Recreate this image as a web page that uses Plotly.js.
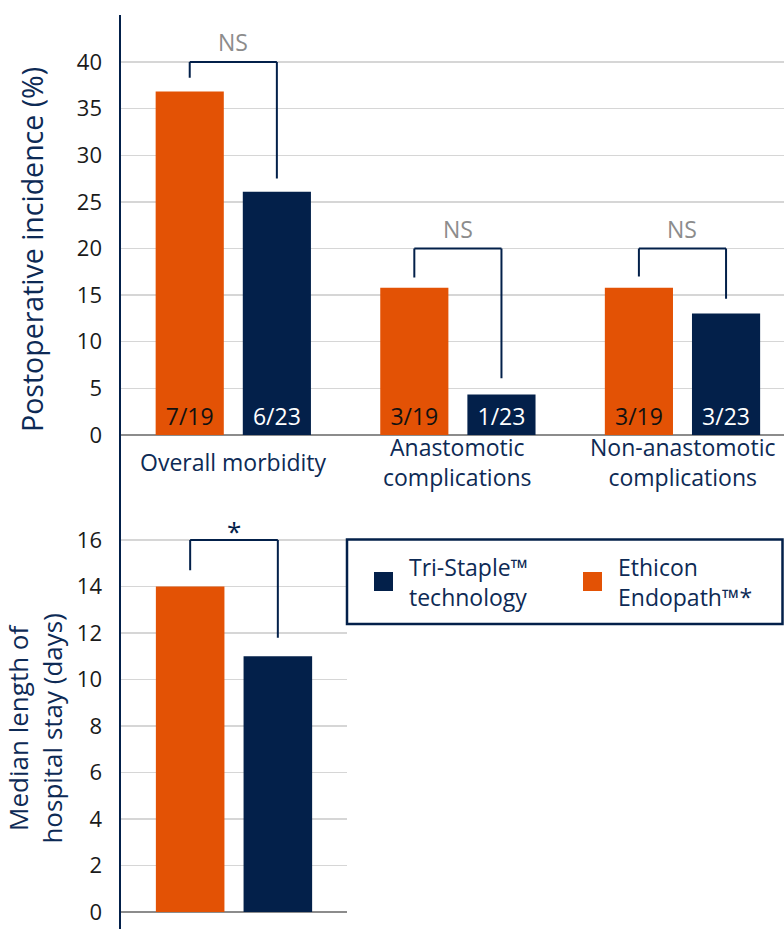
<!DOCTYPE html>
<html><head><meta charset="utf-8">
<script src="https://cdn.plot.ly/plotly-3.0.1.min.js"></script>
<style>html,body{margin:0;padding:0;background:#fff}</style>
</head><body><div id="chart" style="width:784px;height:929px"></div>
<script>
// ---- data ----
const categories = ['Overall morbidity', 'Anastomotic complications', 'Non-anastomotic complications'];
const categoryLabels = ['Overall morbidity', 'Anastomotic<br>complications', 'Non-anastomotic<br>complications'];
const endopathPct = [36.84, 15.79, 15.79];
const triStaplePct = [26.09, 4.35, 13.04];
const endopathN = ['7/19', '3/19', '3/19'];
const triStapleN = ['6/23', '1/23', '3/23'];
const sigLabels = ['NS', 'NS', 'NS'];
const bracketTop = [40, 20, 20];
const bracketLeftEnd = [38.3, 16.9, 17.0];
const bracketRightEnd = [27.5, 6.1, 14.6];

const stayCategory = ['Median length of hospital stay'];
const endopathStay = [14];
const triStapleStay = [11];
const staySig = ['*'];
const stayBracketTop = [16];
const stayBracketLeftEnd = [14.7];
const stayBracketRightEnd = [11.8];

const pctTicks = [0, 5, 10, 15, 20, 25, 30, 35, 40];
const stayTicks = [0, 2, 4, 6, 8, 10, 12, 14, 16];
const legendTri = 'Tri-Staple™<br>technology';
const legendEndo = 'Ethicon<br>Endopath™*';

// ---- style ----
const W = 784, H = 929;
const ORANGE = '#E35205';
const NAVY = '#03204A';
const TEXTNAVY = '#0d2a55';
const FONT = 'Open Sans, Noto Sans, sans-serif';
const px = v => v / W;
const py = v => 1 - v / H;
const BARGAP = 0.224, BARGROUPGAP = 0.218;
const legOff = (1 - BARGAP) / 4;

const traces = [
  {type: 'bar', x: categories, y: endopathPct, name: 'Ethicon Endopath™*', marker: {color: ORANGE},
   text: endopathN, textposition: 'inside', insidetextanchor: 'start', textangle: 0,
   textfont: {family: FONT, size: 23, color: '#111111'}, xaxis: 'x', yaxis: 'y', showlegend: false, hoverinfo: 'skip'},
  {type: 'bar', x: categories, y: triStaplePct, name: 'Tri-Staple™ technology', marker: {color: NAVY},
   text: triStapleN, textposition: 'inside', insidetextanchor: 'start', textangle: 0,
   textfont: {family: FONT, size: 23, color: '#ffffff'}, xaxis: 'x', yaxis: 'y', showlegend: false, hoverinfo: 'skip'},
  {type: 'bar', x: stayCategory, y: endopathStay, name: 'Ethicon Endopath™*', marker: {color: ORANGE},
   xaxis: 'x2', yaxis: 'y2', showlegend: false, hoverinfo: 'skip'},
  {type: 'bar', x: stayCategory, y: triStapleStay, name: 'Tri-Staple™ technology', marker: {color: NAVY},
   xaxis: 'x2', yaxis: 'y2', showlegend: false, hoverinfo: 'skip'}
];

const shapes = [];
const annotations = [];

function addBracket(xref, yref, i, top, le, re, label) {
  const line = {color: NAVY, width: 2};
  shapes.push({type: 'line', xref, yref, x0: i - legOff, x1: i - legOff, y0: le, y1: top, line});
  shapes.push({type: 'line', xref, yref, x0: i - legOff, x1: i + legOff, y0: top, y1: top, line});
  shapes.push({type: 'line', xref, yref, x0: i + legOff, x1: i + legOff, y0: top, y1: re, line});
  const star = label === '*';
  annotations.push({xref, yref, x: i, y: top, text: label, showarrow: false, yanchor: 'bottom',
    yshift: star ? -11 : 2,
    font: {family: FONT, size: star ? 26 : 23, color: star ? NAVY : '#8c8c8c'}});
}
categories.forEach((c, i) => addBracket('x', 'y', i, bracketTop[i], bracketLeftEnd[i], bracketRightEnd[i], sigLabels[i]));
stayCategory.forEach((c, i) => addBracket('x2', 'y2', i, stayBracketTop[i], stayBracketLeftEnd[i], stayBracketRightEnd[i], staySig[i]));

// category labels
categoryLabels.forEach((t, i) => {
  annotations.push({xref: 'x', yref: 'paper', x: i, y: py(462), text: t,
    showarrow: false, xanchor: 'center', yanchor: 'middle', align: 'center',
    font: {family: FONT, size: 23, color: TEXTNAVY}});
});

// vertical axis rule
shapes.push({type: 'line', xref: 'paper', yref: 'paper', x0: px(120), x1: px(120), y0: 0, y1: py(15),
  line: {color: NAVY, width: 2}});

// legend box
shapes.push({type: 'rect', xref: 'paper', yref: 'paper', x0: px(347), x1: px(782.5), y0: py(624), y1: py(539.5),
  line: {color: NAVY, width: 2.5}, fillcolor: 'rgba(0,0,0,0)'});
shapes.push({type: 'rect', xref: 'paper', yref: 'paper', x0: px(374), x1: px(393), y0: py(591), y1: py(572),
  line: {width: 0}, fillcolor: NAVY});
shapes.push({type: 'rect', xref: 'paper', yref: 'paper', x0: px(583), x1: px(602), y0: py(591), y1: py(572),
  line: {width: 0}, fillcolor: ORANGE});
[[legendTri, 407], [legendEndo, 616]].forEach(([t, x]) => {
  annotations.push({xref: 'paper', yref: 'paper', x: px(x), y: py(582), text: t, showarrow: false,
    xanchor: 'left', yanchor: 'middle', align: 'left', font: {family: FONT, size: 23, color: TEXTNAVY}});
});

const yCommon = {
  gridcolor: '#d6d6d6', gridwidth: 1.3, zeroline: true, zerolinecolor: '#8c8c8c', zerolinewidth: 2,
  showline: false, ticks: '', ticklabelstandoff: 18,
  tickfont: {family: FONT, size: 22, color: '#1a1a1a'}, fixedrange: true
};

const layout = {
  width: W, height: H,
  margin: {l: 0, r: 0, t: 0, b: 0},
  paper_bgcolor: '#ffffff', plot_bgcolor: 'rgba(0,0,0,0)',
  barmode: 'group', bargap: BARGAP, bargroupgap: BARGROUPGAP,
  showlegend: false,
  font: {family: FONT},
  xaxis: {domain: [px(121), 1], range: [-0.5, 2.452], type: 'category', showticklabels: false,
    showgrid: false, zeroline: false, showline: false, ticks: '', fixedrange: true, anchor: 'y'},
  yaxis: Object.assign({}, yCommon, {domain: [py(460.2), py(38.7)], range: [-2.7, 42.5], tickvals: pctTicks,
    anchor: 'x', title: {text: 'Postoperative incidence (%)', font: {family: FONT, size: 28.5, color: TEXTNAVY}, standoff: 24}}),
  xaxis2: {domain: [px(121), px(347)], range: [-0.5, 0.5], type: 'category', showticklabels: false,
    showgrid: false, zeroline: false, showline: false, ticks: '', fixedrange: true, anchor: 'y2'},
  yaxis2: Object.assign({}, yCommon, {domain: [py(928.3), py(528.4)], range: [-0.7, 16.5], tickvals: stayTicks,
    anchor: 'x2', title: {text: 'Median length of<br>hospital stay (days)', font: {family: FONT, size: 26, color: TEXTNAVY}, standoff: 18}}),
  shapes, annotations
};

Plotly.newPlot('chart', traces, layout, {displayModeBar: false, staticPlot: true});
</script></body></html>
